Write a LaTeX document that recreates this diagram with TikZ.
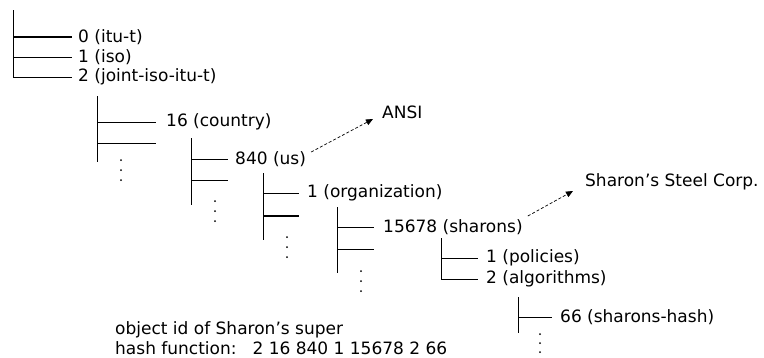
\documentclass[tikz,border=0pt]{standalone}
\usepackage{fontspec}
\setmainfont{DejaVu Sans}
\usetikzlibrary{arrows.meta,calc}
\begin{document}
\begin{tikzpicture}[x=1pt,y=-1pt,
  lbl/.style={anchor=west,inner sep=0pt,font=\fontsize{17}{19}\selectfont},
  stem/.style={line width=0.9pt},
  branch/.style={line width=0.9pt,shorten >=7pt},
  heavy/.style={line width=1.8pt},
  ref/.style={line width=0.7pt,dash pattern=on 3pt off 2pt,
              -{Triangle[length=7pt,width=6pt]}},
  dot/.style={fill=black}]
\useasboundingbox (0,0) rectangle (764,357);

% ---- level 1: root ----
\coordinate (v1t) at (13,10);  \coordinate (v1b) at (13,77);
\node[lbl] (itut)  at (78,37) {0 (itu-t)};
\node[lbl] (iso)   at (78,57) {1 (iso)};
\node[lbl] (joint) at (78,77) {2 (joint-iso-itu-t)};
\draw[stem] (v1t) -- (v1b);
\draw[branch,heavy,shorten >=6pt] (v1t |- itut.west) -- (itut.west);
\draw[branch,shorten >=6pt] (v1t |- iso.west) -- (iso.west);
\draw[branch,shorten >=6pt] (v1t |- joint.west) -- (joint.west);

% ---- level 2 ----
\coordinate (v2t) at (97,96);  \coordinate (v2b) at (97,162);
\node[lbl] (country) at (166,122) {16 (country)};
\coordinate (e2) at (156,143);
\draw[stem] (v2t) -- (v2b);
\draw[branch,shorten >=10pt] (v2t |- country.west) -- (country.west);
\draw[stem] (v2t |- e2) -- (e2);
\foreach \yy in {160,170,180} \fill[dot] (121,\yy) circle (1pt);

% ---- level 3 ----
\coordinate (v3t) at (191,138);  \coordinate (v3b) at (191,205);
\node[lbl] (us) at (235,159) {840 (us)};
\coordinate (e3) at (228,180);
\draw[stem] (v3t) -- (v3b);
\draw[branch] (v3t |- us.west) -- (us.west);
\draw[stem] (v3t |- e3) -- (e3);
\foreach \yy in {201,211,221} \fill[dot] (215,\yy) circle (1pt);

% ---- level 4 ----
\coordinate (v4t) at (263,173);  \coordinate (v4b) at (263,240);
\node[lbl] (org) at (307,193) {1 (organization)};
\coordinate (e4) at (299,216);
\draw[stem] (v4t) -- (v4b);
\draw[branch,shorten >=8pt] (v4t |- org.west) -- (org.west);
\draw[heavy] (v4t |- e4) -- (e4);
\foreach \yy in {237,247,257} \fill[dot] (287,\yy) circle (1pt);

% ---- level 5 ----
\coordinate (v5t) at (337,207);  \coordinate (v5b) at (337,273);
\node[lbl] (sharons) at (383,227) {15678 (sharons)};
\coordinate (e5) at (374,249);
\draw[stem] (v5t) -- (v5b);
\draw[branch,shorten >=9pt] (v5t |- sharons.west) -- (sharons.west);
\draw[stem] (v5t |- e5) -- (e5);
\foreach \yy in {271,281,291} \fill[dot] (361,\yy) circle (1pt);

% ---- level 6 ----
\coordinate (v6t) at (441,238);
\node[lbl] (pol) at (486,258) {1 (policies)};
\node[lbl] (alg) at (486,279) {2 (algorithms)};
\draw[stem] (v6t) -- (v6t |- alg.west);
\draw[branch,shorten >=8pt] (v6t |- pol.west) -- (pol.west);
\draw[branch,shorten >=8pt] (v6t |- alg.west) -- (alg.west);

% ---- level 7 ----
\coordinate (v7t) at (518,297);  \coordinate (v7b) at (518,333);
\node[lbl] (hash) at (560,317) {66 (sharons-hash)};
\draw[stem] (v7t) -- (v7b);
\draw[branch,shorten >=8pt] (v7t |- hash.west) -- (hash.west);
\foreach \yy in {334,343,352} \fill[dot] (540,\yy) circle (1pt);

% ---- registrars ----
\node[lbl] (ansi) at (382,112) {ANSI};
\node[lbl] (steel) at (585,182) {Sharon’s Steel Corp.};
\draw[ref] ($(us.east)+(5,-7)$) -- ($(ansi.west)+(-9,7)$);
\draw[ref] ($(sharons.east)+(5,-11)$) -- ($(steel.west)+(-12,9)$);

% ---- caption ----
\node[lbl] (cap1) at (115,330) {object id of Sharon’s super};
\node[lbl] (cap2) at (115,348) {hash function:\hspace{16pt}2 16 840 1 15678 2 66};
\end{tikzpicture}
\end{document}
